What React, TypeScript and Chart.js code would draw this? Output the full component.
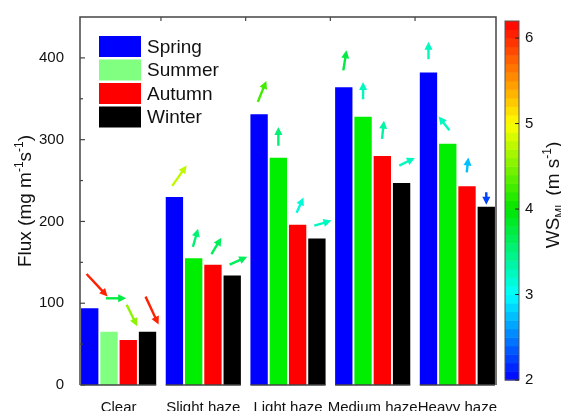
import React, { useEffect, useRef } from 'react';
import { Chart, registerables } from 'chart.js';

Chart.register(...registerables);

const categories = ['Clear', 'Slight haze', 'Light haze', 'Medium haze', 'Heavy haze'];
const seasons = ['Spring', 'Summer', 'Autumn', 'Winter'];

const springFlux = [94, 230, 331, 364, 382];
const summerFlux = [65, 155, 278, 328, 295];
const autumnFlux = [55, 147, 196, 280, 243];
const winterFlux = [65, 134, 179, 247, 218];

// mixing-layer wind speed (m s-1)
const springWS = [6.0, 4.8, 4.3, 3.8, 3.2];
const summerWS = [3.8, 3.5, 3.5, 3.2, 3.2];
const autumnWS = [4.6, 3.6, 3.1, 3.4, 2.7];
const winterWS = [6.0, 3.6, 3.3, 3.2, 2.2];

// wind direction of arrow (degrees, counter-clockwise from east)
const springDir = [-47, 55, 68, 81, 90];
const summerDir = [0, 74, 90, 90, 128];
const autumnDir = [-64, 59, 66, 84, 84];
const winterDir = [-65, 24, 16, 26, -90];

// height (flux units) at which each arrow is drawn
const springArrowY = [122, 256, 359, 397, 409];
const summerArrowY = [106, 180, 304, 360, 320];
const autumnArrowY = [85, 170, 220, 312, 269];
const winterArrowY = [91, 152, 198, 273, 228];

const yTickLabels = [0, 100, 200, 300, 400];
const wsTicks = [2, 3, 4, 5, 6];
const wsMin = 2;
const wsMax = 6.2;

const FONT = '"Liberation Sans", Arial, Helvetica, sans-serif';

const stops: [number, number[]][] = [
  [2, [0, 0, 255]],
  [3, [0, 255, 255]],
  [4, [0, 230, 0]],
  [5, [255, 255, 0]],
  [6.2, [255, 0, 0]],
];

function cmap(v: number): string {
  const band = 0.1;
  let q = wsMin + (Math.floor((v - wsMin) / band) + 0.5) * band;
  q = Math.max(wsMin, Math.min(wsMax, q));
  for (let i = 0; i < stops.length - 1; i++) {
    const [a, ca] = stops[i];
    const [b, cb] = stops[i + 1];
    if (q >= a && q <= b) {
      const t = (q - a) / (b - a);
      const c = ca.map((x, k) => Math.round(x + (cb[k] - x) * t));
      return `rgb(${c[0]},${c[1]},${c[2]})`;
    }
  }
  return 'rgb(255,0,0)';
}

type Part = { t: string; kind?: 'sup' | 'sub' };

function drawRich(ctx: CanvasRenderingContext2D, parts: Part[], size: number, x: number, y: number, rot: number) {
  ctx.save();
  ctx.translate(x, y);
  ctx.rotate(rot);
  const fontFor = (p: Part) => `${p.kind ? Math.round(size * 0.65) : size}px ${FONT}`;
  let total = 0;
  const widths = parts.map((p) => {
    ctx.font = fontFor(p);
    const w = ctx.measureText(p.t).width;
    total += w;
    return w;
  });
  let cx = -total / 2;
  ctx.fillStyle = '#111';
  ctx.textBaseline = 'alphabetic';
  ctx.textAlign = 'left';
  parts.forEach((p, i) => {
    ctx.font = fontFor(p);
    const dy = p.kind === 'sup' ? -size * 0.42 : p.kind === 'sub' ? size * 0.25 : 0;
    ctx.fillText(p.t, cx, dy);
    cx += widths[i];
  });
  ctx.restore();
}

const decorPlugin = {
  id: 'decor',
  afterDatasetsDraw(chart: any) {
    const { ctx, chartArea, scales } = chart;
    const { left, right, top, bottom } = chartArea;
    const xs = scales.x;
    const ys = scales.y;
    ctx.save();

    // frame
    ctx.strokeStyle = '#444';
    ctx.lineWidth = 1.5;
    ctx.beginPath();
    ctx.moveTo(left, bottom);
    ctx.lineTo(left, top);
    ctx.lineTo(right, top);
    ctx.lineTo(right, bottom);
    ctx.stroke();

    // bottom axis segments under each group
    const m0 = chart.getDatasetMeta(0);
    const m3 = chart.getDatasetMeta(chart.data.datasets.length - 1);
    categories.forEach((_, i) => {
      const b0 = m0.data[i];
      const b3 = m3.data[i];
      ctx.beginPath();
      ctx.moveTo(b0.x - b0.width / 2, bottom);
      ctx.lineTo(b3.x + b3.width / 2, bottom);
      ctx.stroke();
    });

    // inward y ticks
    ctx.lineWidth = 1.2;
    for (let v = 0; v < 450; v += 50) {
      const py = ys.getPixelForValue(v);
      const len = v % 100 === 0 ? 5 : 3;
      ctx.beginPath();
      ctx.moveTo(left, py);
      ctx.lineTo(left + len, py);
      ctx.stroke();
    }
    // top ticks at group boundaries
    for (let i = 0; i < categories.length - 1; i++) {
      const px = xs.getPixelForValue(i + 0.5);
      ctx.beginPath();
      ctx.moveTo(px, top);
      ctx.lineTo(px, top + 4);
      ctx.stroke();
    }

    // wind arrows
    chart.data.datasets.forEach((ds: any, d: number) => {
      const meta = chart.getDatasetMeta(d);
      meta.data.forEach((bar: any, i: number) => {
        const ws = ds.ws[i];
        const ang = (ds.dir[i] * Math.PI) / 180;
        const L = 2 + 4.8 * ws;
        const vx = L * Math.cos(ang);
        const vy = -L * Math.sin(ang);
        const mx = bar.x + 0.35 * vx;
        const my = ys.getPixelForValue(ds.arrowY[i]);
        const tx = mx - vx / 2, ty = my - vy / 2;
        const hx = mx + vx / 2, hy = my + vy / 2;
        const ux = vx / L, uy = vy / L;
        const hl = 8, hw = 4;
        const bx = hx - ux * hl, by = hy - uy * hl;
        const col = cmap(ws);
        ctx.strokeStyle = col;
        ctx.fillStyle = col;
        ctx.lineWidth = 2.4;
        ctx.beginPath();
        ctx.moveTo(tx, ty);
        ctx.lineTo(bx + ux, by + uy);
        ctx.stroke();
        ctx.beginPath();
        ctx.moveTo(hx, hy);
        ctx.lineTo(bx - uy * hw, by + ux * hw);
        ctx.lineTo(bx + uy * hw, by - ux * hw);
        ctx.closePath();
        ctx.fill();
      });
    });

    // legend
    chart.data.datasets.forEach((ds: any, d: number) => {
      const sx = left + 19;
      const sy = top + 19 + d * 23.5;
      const c = Array.isArray(ds.backgroundColor) ? ds.backgroundColor[0] : ds.backgroundColor;
      ctx.fillStyle = c;
      ctx.fillRect(sx, sy, 42, 21);
      ctx.fillStyle = '#111';
      ctx.font = `19px ${FONT}`;
      ctx.textBaseline = 'middle';
      ctx.textAlign = 'left';
      ctx.fillText(ds.label, sx + 48, sy + 11.5);
    });

    // colorbar
    const cbL = right + 9;
    const cbW = 14;
    const cbTop = top + 4;
    const cbBot = bottom - 5;
    const wsPx = (v: number) => cbBot - ((v - wsMin) / (wsMax - wsMin)) * (cbBot - cbTop);
    for (let v = wsMin; v < wsMax - 1e-6; v += 0.1) {
      const y1 = wsPx(v);
      const y2 = wsPx(Math.min(v + 0.1, wsMax));
      ctx.fillStyle = cmap(v + 0.05);
      ctx.fillRect(cbL, y2, cbW, y1 - y2 + 0.5);
    }
    ctx.strokeStyle = '#555';
    ctx.lineWidth = 1;
    ctx.strokeRect(cbL, cbTop, cbW, cbBot - cbTop);
    ctx.strokeStyle = '#222';
    ctx.fillStyle = '#111';
    ctx.font = `15px ${FONT}`;
    ctx.textBaseline = 'middle';
    ctx.textAlign = 'left';
    wsTicks.forEach((v) => {
      const py = wsPx(v);
      ctx.beginPath();
      ctx.moveTo(cbL + cbW, py);
      ctx.lineTo(cbL + cbW - 4, py);
      ctx.stroke();
      ctx.fillText(String(v), cbL + cbW + 6, py);
    });

    // axis titles
    drawRich(
      ctx,
      [{ t: 'Flux (mg m' }, { t: '-1', kind: 'sup' }, { t: 's' }, { t: '-1', kind: 'sup' }, { t: ')' }],
      19, 30.5, (top + bottom) / 2, -Math.PI / 2
    );
    drawRich(
      ctx,
      [{ t: 'WS' }, { t: 'ML', kind: 'sub' }, { t: ' (m s' }, { t: '-1', kind: 'sup' }, { t: ')' }],
      19, 559, 195, -Math.PI / 2
    );

    ctx.restore();
  },
};

export default function App() {
  const ref = useRef<HTMLCanvasElement>(null);
  useEffect(() => {
    if (!ref.current) return;
    const mk = (
      label: string,
      vals: number[],
      colors: string | string[],
      ws: number[],
      dir: number[],
      arrowY: number[]
    ) => ({
      label,
      data: vals.map((v, i) => ({ x: i, y: v })),
      backgroundColor: colors,
      borderWidth: 0,
      barPercentage: 0.9,
      categoryPercentage: 0.91,
      ws,
      dir,
      arrowY,
    });
    const chart = new Chart(ref.current, {
      type: 'bar',
      data: {
        datasets: [
          mk(seasons[0], springFlux, '#0000ff', springWS, springDir, springArrowY),
          mk(seasons[1], summerFlux, ['#80ff80', '#00ee00', '#00ee00', '#00ee00', '#00ee00'], summerWS, summerDir, summerArrowY),
          mk(seasons[2], autumnFlux, '#ff0000', autumnWS, autumnDir, autumnArrowY),
          mk(seasons[3], winterFlux, '#000000', winterWS, winterDir, winterArrowY),
        ] as any,
      },
      options: {
        animation: false,
        responsive: false,
        devicePixelRatio: 1,
        layout: { padding: { top: 13, right: 65, left: 0, bottom: 0 } },
        plugins: { legend: { display: false }, tooltip: { enabled: false } },
        scales: {
          x: {
            type: 'linear',
            min: -0.456,
            max: 4.456,
            offset: false,
            afterBuildTicks: (axis: any) => {
              axis.ticks = categories.map((_, i) => ({ value: i }));
            },
            afterFit: (s: any) => {
              s.height = 26;
            },
            ticks: {
              autoSkip: false,
              maxRotation: 0,
              padding: 6,
              color: '#111',
              font: { family: FONT, size: 15 },
              callback: (v: any) => categories[v as number] ?? '',
            },
            grid: { display: false },
            border: { display: false },
          },
          y: {
            min: 0,
            max: 450,
            afterFit: (s: any) => {
              s.width = 80;
            },
            ticks: {
              stepSize: 50,
              autoSkip: false,
              padding: 8,
              color: '#111',
              font: { family: FONT, size: 15 },
              callback: (v: any) => (yTickLabels.includes(v as number) ? String(v) : ''),
            },
            grid: { display: false },
            border: { display: false },
          },
        },
      },
      plugins: [decorPlugin],
    });
    return () => chart.destroy();
  }, []);
  return (
    <div style={{ position: 'absolute', left: 0, top: 0, width: 561, height: 411, background: '#fff' }}>
      <canvas ref={ref} width={561} height={411} style={{ display: 'block' }} />
    </div>
  );
}
